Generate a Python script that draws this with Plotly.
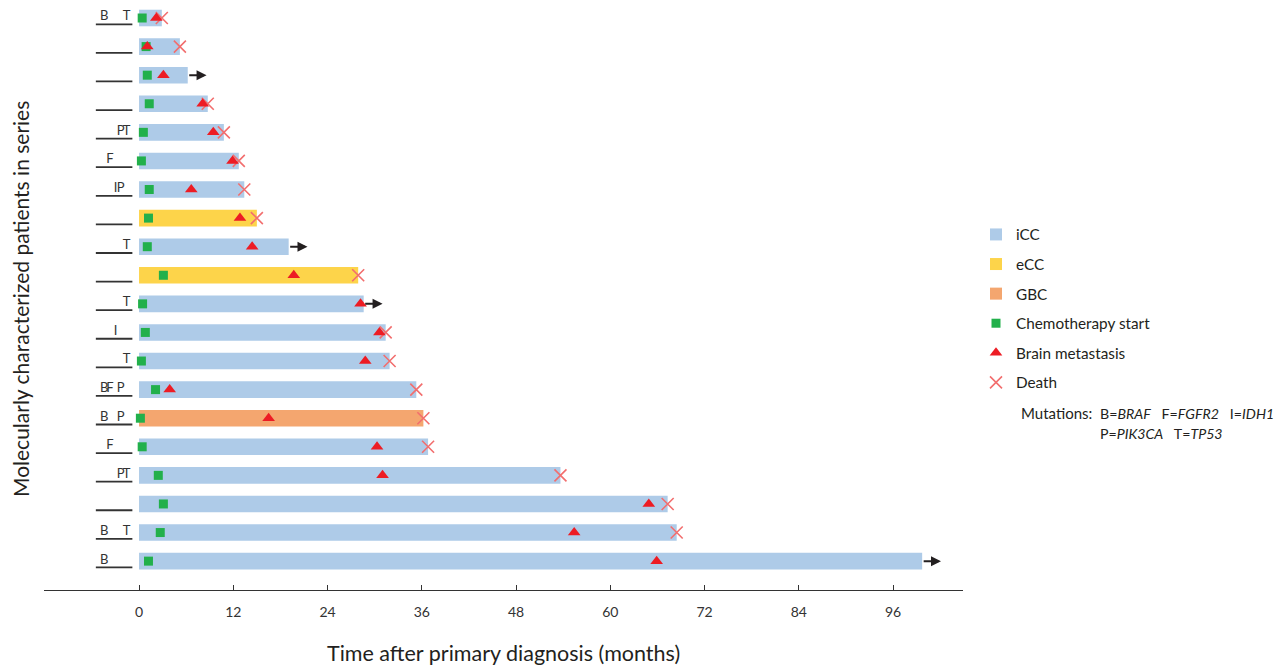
import plotly.graph_objects as go

# ---------------- data (rows listed top to bottom) ----------------
patients = list(range(1, 21))
tumor_type = ["iCC", "iCC", "iCC", "iCC", "iCC", "iCC", "iCC", "eCC", "iCC", "eCC",
              "iCC", "iCC", "iCC", "iCC", "GBC", "iCC", "iCC", "iCC", "iCC", "iCC"]
mutations = ["BT", "", "", "", "PT", "F", "IP", "", "T", "",
             "T", "I", "T", "BFP", "BP", "F", "PT", "", "BT", "B"]
follow_up = [2.9, 5.2, 6.2, 8.75, 10.8, 12.7, 13.4, 15.0, 19.05, 27.9,
             28.6, 31.4, 31.9, 35.3, 36.2, 36.8, 53.65, 67.3, 68.45, 99.7]
chemo_start = [0.4, 0.9, 1.05, 1.3, 0.55, 0.3, 1.3, 1.2, 1.05, 3.1,
               0.45, 0.8, 0.3, 2.1, 0.17, 0.4, 2.45, 3.1, 2.7, 1.2]
brain_met = [2.2, 1.05, 3.1, 8.1, 9.45, 11.9, 6.65, 12.85, 14.4, 19.7,
             28.2, 30.6, 28.8, 3.9, 16.5, 30.3, 31.0, 64.9, 55.4, 65.9]
died = [True, True, False, True, True, True, True, True, False, True,
        False, True, True, True, True, True, True, True, True, False]
x_ticks = [0, 12, 24, 36, 48, 60, 72, 84, 96]

# ---------------- styles ----------------
FONT = "Lato"
TXT = "#231F20"
type_colors = {"iCC": "#AECBE8", "eCC": "#FDD44A", "GBC": "#F4A66F"}
GREEN = "#22B04B"
RED = "#ED1C24"
PINK = "#F26E6E"
BAR_W = 0.58
ARROW_LEN = 2.4
mut_col = {"B": -4.45, "F": -3.7, "I": -3.0, "P": -2.35, "T": -1.6}
UL_X0, UL_X1 = -5.5, -0.85

fig = go.Figure()

# bars by tumour type
for t in ["iCC", "eCC", "GBC"]:
    ys = [p for p, tt in zip(patients, tumor_type) if tt == t]
    xs = [f for f, tt in zip(follow_up, tumor_type) if tt == t]
    fig.add_trace(go.Bar(
        y=ys, x=xs, base=0, orientation="h", width=BAR_W, name=t,
        marker=dict(color=type_colors[t], line=dict(width=0)),
        legendgroup=t, hoverinfo="skip"))

fig.add_trace(go.Scatter(
    x=chemo_start, y=patients, mode="markers", name="Chemotherapy start",
    marker=dict(symbol="square", size=9, color=GREEN), legendgroup="chemo"))

fig.add_trace(go.Scatter(
    x=[f for f, d in zip(follow_up, died) if d],
    y=[p for p, d in zip(patients, died) if d],
    mode="markers", name="Death",
    marker=dict(symbol="x-thin", size=12, line=dict(width=1.6, color=PINK)),
    legendgroup="death", showlegend=False))

fig.add_trace(go.Scatter(
    x=brain_met, y=patients, mode="markers", name="Brain metastasis",
    marker=dict(symbol="triangle-up", size=11, color=RED), legendgroup="brain"))

# legend entry for death in correct order
fig.add_trace(go.Scatter(
    x=[None], y=[None], mode="markers", name="Death",
    marker=dict(symbol="x-thin", size=12, line=dict(width=1.6, color=PINK)),
    legendgroup="death"))

# mutation labels + underline
lx, ly, lt = [], [], []
for p, m in zip(patients, mutations):
    for ch in m:
        lx.append(mut_col[ch]); ly.append(p - 0.03); lt.append(ch)
fig.add_trace(go.Scatter(x=lx, y=ly, text=lt, mode="text", showlegend=False, cliponaxis=False,
                         textfont=dict(family=FONT, size=13, color="#333333"),
                         hoverinfo="skip"))
ux, uy = [], []
for p in patients:
    ux += [UL_X0, UL_X1, None]; uy += [p + 0.22, p + 0.22, None]
fig.add_trace(go.Scatter(x=ux, y=uy, mode="lines", showlegend=False,
                         line=dict(color="#333333", width=1.8), hoverinfo="skip"))

# arrows for patients alive at last follow-up
for p, f, d in zip(patients, follow_up, died):
    if not d:
        fig.add_annotation(x=f + ARROW_LEN, y=p, ax=f, ay=p, xref="x", yref="y",
                           axref="x", ayref="y", text="", showarrow=True,
                           arrowhead=2, arrowsize=1, arrowwidth=2,
                           arrowcolor=TXT, standoff=0, startstandoff=0)

# page body has an 8px margin; the figure is sized to fit the 1288x667 window
OFF = 8
W, H = 1280, 659
ML, MR, MT, MB = 36, 325, 0, 77
PW, PH = W - ML - MR, H - MT - MB


def px2paper(px, py):
    fx, fy = px - OFF, py - OFF
    return (fx - ML) / PW, (H - MB - fy) / PH


# axis titles
fig.add_annotation(text="Molecularly characterized patients in series", xref="paper", yref="paper",
                   x=0, y=0.5, xshift=-24, textangle=-90, showarrow=False, borderpad=0,
                   font=dict(family=FONT, size=21, color=TXT), xanchor="center", yanchor="middle")
fig.add_annotation(text="Time after primary diagnosis (months)", xref="paper", yref="paper",
                   x=0.5, y=0, yshift=-63, showarrow=False,
                   font=dict(family=FONT, size=21.5, color=TXT), xanchor="center", yanchor="middle")

# mutation key
nb = "\u00a0"
KEY_FS = 14.2
mx, my = px2paper(1019, 413)
fig.add_annotation(text="Mutations:", xref="paper", yref="paper", x=mx, y=my, showarrow=False,
                   xanchor="left", yanchor="middle", font=dict(family=FONT, size=15, color=TXT))
bx, by = px2paper(1098, 413)
fig.add_annotation(text=f"B=<i>BRAF</i>{nb*3}F=<i>FGFR2</i>{nb*3}I=<i>IDH1</i>", xref="paper", yref="paper",
                   x=bx, y=by, showarrow=False, xanchor="left", yanchor="middle",
                   font=dict(family=FONT, size=KEY_FS, color=TXT))
bx2, by2 = px2paper(1098, 433)
fig.add_annotation(text=f"P=<i>PIK3CA</i>{nb*3}T=<i>TP53</i>", xref="paper", yref="paper",
                   x=bx2, y=by2, showarrow=False, xanchor="left", yanchor="middle",
                   font=dict(family=FONT, size=KEY_FS, color=TXT))

lgx, lgy = px2paper(976, 218)
fig.update_layout(
    width=W, height=H, autosize=False,
    margin=dict(l=ML, r=MR, t=MT, b=MB),
    paper_bgcolor="white", plot_bgcolor="white",
    barmode="overlay",
    font=dict(family=FONT, color=TXT),
    legend=dict(x=lgx, y=lgy, xanchor="left", yanchor="top", traceorder="grouped",
                tracegroupgap=6.7, font=dict(family=FONT, size=15.3, color=TXT),
                bgcolor="rgba(0,0,0,0)", borderwidth=0),
    xaxis=dict(range=[-12.1, 104.9], tickvals=x_ticks, ticktext=[str(t) for t in x_ticks],
               showgrid=False, zeroline=False, showline=True, linecolor="#333333", linewidth=1.3,
               ticks="inside", ticklen=5, tickwidth=1.2, tickcolor="#333333",
               tickfont=dict(family=FONT, size=14, color="#333333"), ticklabelstandoff=9),
    yaxis=dict(range=[21.01, 0.65], showgrid=False, zeroline=False, showline=False,
               showticklabels=False, ticks=""),
)

fig.write_html("out.html")
